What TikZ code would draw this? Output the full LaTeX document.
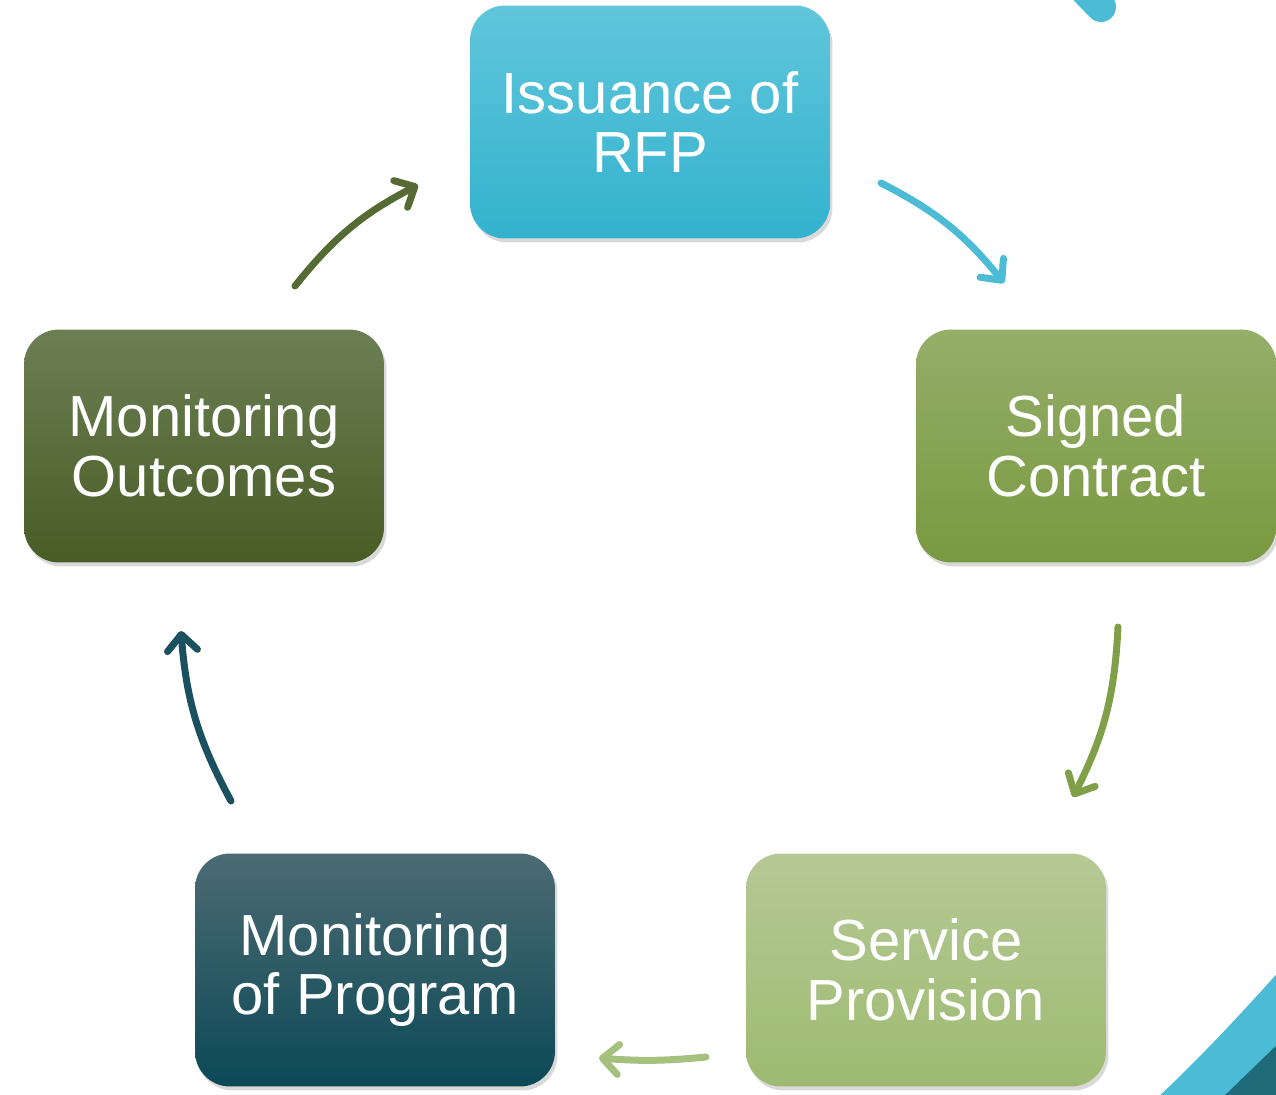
\documentclass[tikz,border=0pt]{standalone}
\usepackage{fontspec}
\setmainfont{Liberation Sans}
\usetikzlibrary{arrows.meta}
\usetikzlibrary{shadows}

\definecolor{rfptop}{HTML}{60C6DB}
\definecolor{rfpbot}{HTML}{33B2CE}
\definecolor{contop}{HTML}{95AE69}
\definecolor{conbot}{HTML}{799940}
\definecolor{servtop}{HTML}{B5C995}
\definecolor{servbot}{HTML}{9EBA71}
\definecolor{progtop}{HTML}{4C6B73}
\definecolor{progbot}{HTML}{0B4956}
\definecolor{outtop}{HTML}{6C7F54}
\definecolor{outbot}{HTML}{485C25}
\definecolor{cycblue}{HTML}{4CBCD6}
\definecolor{cycolive}{HTML}{566B33}
\definecolor{cycgreen}{HTML}{809F49}
\definecolor{cyclight}{HTML}{A6C07D}
\definecolor{cycteal}{HTML}{1B5061}
\definecolor{cornerteal}{HTML}{1F6A78}

\begin{document}
\begin{tikzpicture}[x=0.02cm, y=-0.02cm,
    stage/.style = {rounded corners=0.7cm, minimum width=7.2cm, minimum height=4.66cm,
        align=center, text=white, font=\fontsize{33}{34}\selectfont,
        drop shadow={opacity=0.3, shadow xshift=0.05cm, shadow yshift=-0.08cm}},
    cyc/.style = {line width=0.14cm, line cap=round,
        -{Straight Barb[round, length=0.32cm, width=0.6cm]}}]
    \useasboundingbox (0, 0) rectangle (1276, 1095);
    \clip (0, 0) rectangle (1276, 1095);

    % corner decorations
    \draw [cycblue, line width=0.6cm, line cap=round] (1070, -25) -- (1101, 7);
    \fill [cycblue] (1155, 1100) .. controls (1198, 1060) and (1240, 1015) .. (1282, 968) -- (1282, 1100) -- cycle;
    \fill [cornerteal] (1220, 1100) -- (1282, 1040) -- (1282, 1100) -- cycle;

    % stages
    \node [stage, top color=rfptop, bottom color=rfpbot] (rfp) at (650, 122) {Issuance of\\RFP};
    \node [stage, top color=contop, bottom color=conbot] (contract) at (1096, 446) {Signed\\Contract};
    \node [stage, top color=servtop, bottom color=servbot] (service) at (926, 970) {Service\\Provision};
    \node [stage, top color=progtop, bottom color=progbot] (program) at (375, 970) {Monitoring\\of Program};
    \node [stage, top color=outtop, bottom color=outbot] (outcomes) at (204, 446) {Monitoring\\Outcomes};

    % arrow ends
    \coordinate (a1) at (881, 183);  \coordinate (b1) at (1004, 283);
    \coordinate (a2) at (1118, 627); \coordinate (b2) at (1073, 797);
    \coordinate (a3) at (706, 1057); \coordinate (b3) at (599, 1058);
    \coordinate (a4) at (231, 801);  \coordinate (b4) at (181, 631);
    \coordinate (a5) at (295, 286);  \coordinate (b5) at (418, 185);

    \draw [cyc, cycblue] (a1) to [bend left=12] (b1);
    \draw [cyc, cycgreen] (a2) to [bend left=12] (b2);
    \draw [cyc, cyclight] (a3) to [bend left=5] (b3);
    \draw [cyc, cycteal] (a4) to [bend left=12] (b4);
    \draw [cyc, cycolive] (a5) to [bend left=12] (b5);
\end{tikzpicture}
\end{document}
